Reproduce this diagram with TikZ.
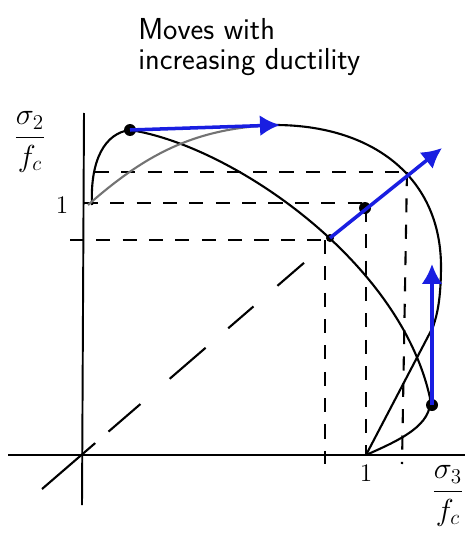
\documentclass[tikz,border=0pt]{standalone}
\usepackage{amsmath}
\usetikzlibrary{arrows.meta, positioning}
\definecolor{pen}{RGB}{25,30,225}
\begin{document}
\begin{tikzpicture}[
    x=0.02cm, y=-0.02cm,
    axis/.style={line width=1.1pt},
    guide/.style={line width=1.2pt, dash pattern=on 8pt off 7pt},
    diag/.style={line width=1.2pt,
        dash pattern=on 40pt off 10pt on 24pt off 22pt on 27pt off 17pt on 19pt off 18pt on 20pt off 20pt},
    curve/.style={line width=1.2pt, line join=round},
    move/.style={-{Latex[length=4mm, width=4.2mm]}, line width=2pt, draw=pen},
    dot/.style={circle, fill=black, inner sep=0pt, minimum size=2.4mm},
    lbl/.style={font=\LARGE}
]
\useasboundingbox (0,0) rectangle (473,541);

% axes
\coordinate (xstart) at (8,455);
\coordinate (xend) at (465,455);
\coordinate (ybot) at (82,505);
\coordinate (ytop) at (84,113);
\draw[axis] (xstart) -- (xend);
\draw[axis] (ybot) -- (ytop);
\coordinate (dstart) at (42,489);
\coordinate (dend) at (305,262);
\draw[diag] (dstart) -- (dend);

% guides
\coordinate (h1a) at (95,172);  \coordinate (h1b) at (410,172);
\coordinate (h2a) at (84,203);  \coordinate (h2b) at (365,203);
\coordinate (h3a) at (70,240);  \coordinate (h3b) at (330,240);
\coordinate (v1a) at (325,240); \coordinate (v1b) at (325,464);
\coordinate (v2a) at (366,208); \coordinate (v2b) at (366,455);
\coordinate (v3a) at (407,172); \coordinate (v3b) at (402,464);
\draw[guide] (h1a) -- (h1b);
\draw[guide] (h2a) -- (h2b);
\draw[guide] (h3a) -- (h3b);
\draw[guide] (v1a) -- (v1b);
\draw[guide] (v2a) -- (v2b);
\draw[guide] (v3a) -- (v3b);

% points
\node[dot] (p1) at (130,130) {};
\node[dot, minimum size=1.6mm] (p2) at (330,238) {};
\node[dot] (p3) at (365,208) {};
\node[dot] (p4) at (432,405) {};

% surfaces
\draw[curve] (92,205) .. controls (90,160) and (105,133) .. (p1.center)
    .. controls (230,145) and (400,260) .. (430,398)
    .. controls (433,425) and (400,440) .. (v2b);
\draw[curve, black!55] (88,205) .. controls (150,150) and (200,128) .. (275,125);
\draw[curve] (275,125) .. controls (370,125) and (440,175) .. (441,265)
    .. controls (441,300) and (437,315) .. (433,327) -- (v2b);

% moves
\coordinate (a1) at (280,125);
\coordinate (a2) at (442,148);
\coordinate (a3) at (432,264);
\draw[move] (p1.center) -- (a1);
\draw[move] (p2.center) -- (a2);
\draw[move] (p4.center) -- (a3);

% labels
\node[font=\LARGE\sffamily, align=left, anchor=north west, inner sep=0pt] (title) at (138,18)
    {Moves with\\[-5pt]increasing ductility};
\node[lbl] (ylbl) at (30,142) {$\dfrac{\sigma_2}{f_c}$};
\node[lbl] (xlbl) at (448,496) {$\dfrac{\sigma_3}{f_c}$};
\node[font=\Large] (one2) at (62,205) {1};
\node[font=\Large, below=2pt of v2b] (one3) {1};
\end{tikzpicture}
\end{document}
